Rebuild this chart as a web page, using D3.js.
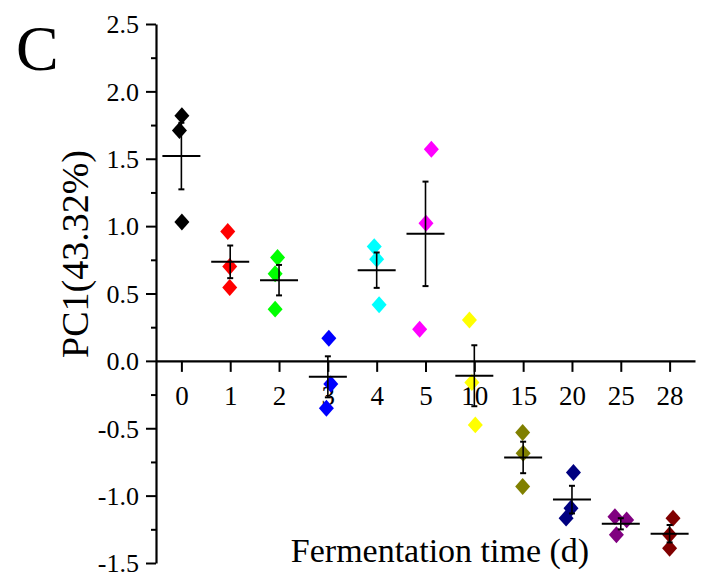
<!DOCTYPE html>
<html><head><meta charset="utf-8">
<script src="https://cdn.jsdelivr.net/npm/d3@7"></script>
<style>
html,body{margin:0;padding:0;background:#fff;}
svg{display:block;}
</style></head><body>
<svg id="chart" width="704" height="574"></svg>
<script>
// Fermentation days (categorical x axis)
const days = ["0", "1", "2", "3", "4", "5", "10", "15", "20", "25", "28"];
// One colour per fermentation day
const groupColors = ["#000000", "#ff0000", "#00ff00", "#0000ff", "#00ffff", "#ff00ff",
                     "#ffff00", "#808000", "#000080", "#800080", "#800000"];
// PC1 scores of the three replicates per day
const pc1Scores = [
  [1.82, 1.71, 1.03],
  [0.96, 0.70, 0.545],
  [0.767, 0.646, 0.384],
  [0.168, -0.172, -0.351],
  [0.848, 0.755, 0.416],
  [1.571, 1.022, 0.235],
  [0.304, -0.16, -0.475],
  [-0.532, -0.685, -0.933],
  [-0.829, -1.093, -1.167],
  [-1.156, -1.18, -1.291],
  [-1.167, -1.291, -1.39]
];
// Horizontal scatter of the replicates, in fractions of a category step
const jitter = [
  [0.01, -0.04, 0.01],
  [-0.05, -0.01, -0.01],
  [-0.03, -0.08, -0.08],
  [0.02, 0.06, -0.03],
  [-0.05, 0.0, 0.05],
  [0.12, 0.01, -0.12],
  [-0.1, -0.05, 0.02],
  [-0.01, 0.0, -0.01],
  [0.03, -0.02, -0.12],
  [-0.12, 0.12, -0.09],
  [0.07, 0.0, 0.0]
];
const yMajorTicks = [-1.5, -1.0, -0.5, 0.0, 0.5, 1.0, 1.5, 2.0, 2.5];
const yTickLabels = ["-1.5", "-1.0", "-0.5", "0.0", "0.5", "1.0", "1.5", "2.0", "2.5"];
const yMinorTicks = [-1.25, -0.75, -0.25, 0.25, 0.75, 1.25, 1.75, 2.25];

const FONT = '"Liberation Serif"';
const svg = d3.select("#chart");
const axisX0 = 156, axisX1 = 695;

const x = d3.scalePoint().domain(days).range([axisX0, axisX1]).padding(0.52);
const step = x.step();
const y = d3.scaleLinear().domain([-1.5, 2.5]).range([563, 24]);

// Panel letter
svg.append("text").attr("x", 16).attr("y", 70).style("font-family", FONT)
  .attr("font-size", 64).attr("fill", "#000").text("C");

// Y axis
const yAxis = svg.append("g").attr("transform", `translate(${axisX0},0)`)
  .call(d3.axisLeft(y).tickValues(yMajorTicks.concat(yMinorTicks)).tickSize(10).tickSizeOuter(0)
    .tickFormat(d => { const i = yMajorTicks.indexOf(d); return i >= 0 ? yTickLabels[i] : ""; }));
yAxis.select(".domain").attr("stroke", "#000").attr("stroke-width", 2.2);
yAxis.selectAll(".tick line").attr("stroke", "#000").attr("stroke-width", 2)
  .attr("x2", d => yMajorTicks.indexOf(d) >= 0 ? -10 : -5);
yAxis.selectAll(".tick text").attr("x", -17).attr("dy", "0.34em")
  .attr("font-size", 26).attr("fill", "#000").style("font-family", FONT);

// X axis at PC1 = 0
const xAxis = svg.append("g").attr("transform", `translate(0,${y(0)})`)
  .call(d3.axisBottom(x).tickSize(11).tickSizeOuter(0));
xAxis.select(".domain").attr("stroke", "#000").attr("stroke-width", 2.2);
xAxis.selectAll(".tick line").attr("stroke", "#000").attr("stroke-width", 2);
xAxis.selectAll(".tick text").attr("y", 44).attr("dy", 0)
  .attr("font-size", 27).attr("fill", "#000").style("font-family", FONT);

// Axis titles
svg.append("text").style("font-family", FONT)
  .attr("transform", `translate(88,254) rotate(-90)`)
  .attr("text-anchor", "middle").attr("font-size", 38).attr("fill", "#000")
  .text("PC1(43.32%)");
svg.append("text").style("font-family", FONT).attr("x", 440).attr("y", 562)
  .attr("text-anchor", "middle").attr("font-size", 34).attr("fill", "#000")
  .text("Fermentation time (d)");

// Diamond marker
const diamond = {
  draw(ctx, size) {
    const w = Math.sqrt(size) * 0.5, h = w * 1.13;
    ctx.moveTo(0, -h); ctx.lineTo(w, 0); ctx.lineTo(0, h); ctx.lineTo(-w, 0); ctx.closePath();
  }
};
const sym = d3.symbol().type(diamond).size(225);

const points = [];
pc1Scores.forEach((vals, gi) => vals.forEach((v, k) => points.push({ gi, v, j: jitter[gi][k] })));

svg.append("g").selectAll("path").data(points).join("path")
  .attr("d", sym)
  .attr("fill", d => groupColors[d.gi])
  .attr("transform", d => `translate(${x(days[d.gi]) + d.j * step},${y(d.v)})`);

// Mean line and standard error bars
const stats = pc1Scores.map((vals, gi) => {
  const m = d3.mean(vals);
  const se = d3.deviation(vals) / Math.sqrt(vals.length);
  return { day: days[gi], m, se };
});
const sg = svg.append("g").attr("stroke", "#000");
sg.selectAll("line.mean").data(stats).join("line").attr("class", "mean")
  .attr("x1", d => x(d.day) - 19).attr("x2", d => x(d.day) + 19)
  .attr("y1", d => y(d.m)).attr("y2", d => y(d.m)).attr("stroke-width", 2);
sg.selectAll("line.err").data(stats).join("line").attr("class", "err")
  .attr("x1", d => x(d.day)).attr("x2", d => x(d.day))
  .attr("y1", d => y(d.m + d.se)).attr("y2", d => y(d.m - d.se)).attr("stroke-width", 1.6);
sg.selectAll("line.capTop").data(stats).join("line").attr("class", "capTop")
  .attr("x1", d => x(d.day) - 3).attr("x2", d => x(d.day) + 3)
  .attr("y1", d => y(d.m + d.se)).attr("y2", d => y(d.m + d.se)).attr("stroke-width", 2);
sg.selectAll("line.capBot").data(stats).join("line").attr("class", "capBot")
  .attr("x1", d => x(d.day) - 3).attr("x2", d => x(d.day) + 3)
  .attr("y1", d => y(d.m - d.se)).attr("y2", d => y(d.m - d.se)).attr("stroke-width", 2);
</script>
</body></html>
